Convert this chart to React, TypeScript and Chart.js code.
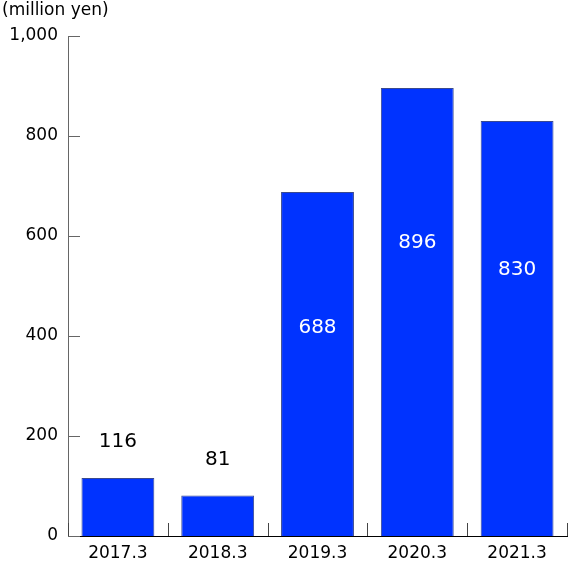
import { useEffect, useRef } from "react";
import { Chart, registerables } from "chart.js";

Chart.register(...registerables);

const categories = ["2017.3", "2018.3", "2019.3", "2020.3", "2021.3"];
const values = [116, 81, 688, 896, 830];
const yTicks = [0, 200, 400, 600, 800, 1000];
const unitLabel = "(million yen)";

const FONT = "'DejaVu Sans', Verdana, sans-serif";

const decorPlugin = {
  id: "decor",
  afterDraw(chart: any) {
    const { ctx, chartArea, scales } = chart;
    const x = scales.x;
    const y = scales.y;
    ctx.save();

    // y tick marks, pointing inward
    ctx.strokeStyle = "#666";
    ctx.lineWidth = 1;
    yTicks.forEach((v) => {
      const py = Math.round(y.getPixelForValue(v)) + 0.5;
      ctx.beginPath();
      ctx.moveTo(chartArea.left, py);
      ctx.lineTo(chartArea.left + 12, py);
      ctx.stroke();
    });

    // x tick marks at category boundaries, pointing up
    const step = (chartArea.right - chartArea.left) / categories.length;
    ctx.strokeStyle = "#444";
    for (let i = 0; i <= categories.length; i++) {
      const px = Math.round(x.getPixelForValue(i) - step / 2) + 0.5;
      ctx.beginPath();
      ctx.moveTo(px, chartArea.bottom);
      ctx.lineTo(px, chartArea.bottom - 13);
      ctx.stroke();
    }

    // value labels
    const meta = chart.getDatasetMeta(0);
    ctx.font = `20px ${FONT}`;
    ctx.textAlign = "center";
    ctx.textBaseline = "middle";
    meta.data.forEach((bar: any, i: number) => {
      const v = values[i];
      if (v < 300) {
        ctx.fillStyle = "#000";
        ctx.fillText(String(v), bar.x, bar.y - 36);
      } else {
        ctx.fillStyle = "#fff";
        ctx.fillText(String(v), bar.x, y.getPixelForValue(0.81 * v - 140));
      }
    });

    // unit label
    ctx.fillStyle = "#000";
    ctx.font = `17px ${FONT}`;
    ctx.textAlign = "left";
    ctx.textBaseline = "middle";
    ctx.fillText(unitLabel, 2, 11);
    ctx.restore();
  },
};

export default function App() {
  const chartRef = useRef<HTMLCanvasElement>(null);

  useEffect(() => {
    document.body.style.margin = "0";
    if (!chartRef.current) return;
    const ctx = chartRef.current.getContext("2d");
    if (!ctx) return;

    const myChart = new Chart(ctx, {
      type: "bar",
      data: {
        labels: categories,
        datasets: [
          {
            data: values,
            backgroundColor: "#0033ff",
            borderColor: "#3a4a8f",
            borderWidth: 1,
            categoryPercentage: 1,
            barPercentage: 0.73,
          },
        ],
      },
      options: {
        responsive: false,
        animation: false,
        layout: { padding: { top: 36, right: 1, left: 0, bottom: 0 } },
        plugins: {
          legend: { display: false },
          tooltip: { enabled: false },
        },
        scales: {
          x: {
            grid: { display: false, drawTicks: false },
            border: { display: true, color: "#000", width: 1 },
            ticks: {
              color: "#000",
              font: { family: FONT, size: 17 },
              padding: 7,
            },
            afterFit: (s: any) => {
              s.height = 33;
            },
          },
          y: {
            min: 0,
            max: 1000,
            grid: { display: false, drawTicks: false },
            border: { display: true, color: "#666", width: 1 },
            ticks: {
              stepSize: 200,
              color: "#000",
              font: { family: FONT, size: 17 },
              padding: 10,
              callback: (v: any) => Number(v).toLocaleString("en-US"),
            },
            afterFit: (s: any) => {
              s.width = 68;
            },
          },
        },
      },
      plugins: [decorPlugin],
    });

    return () => {
      myChart.destroy();
    };
  }, []);

  return (
    <div style={{ width: 568, height: 569 }}>
      <canvas ref={chartRef} width={568} height={569} />
    </div>
  );
}
